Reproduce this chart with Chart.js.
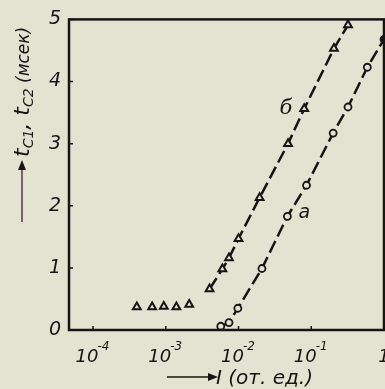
<!DOCTYPE html>
<html>
<head>
<meta charset="utf-8">
<script src="https://cdn.jsdelivr.net/npm/chart.js@4/dist/chart.umd.min.js"></script>
<style>
html,body{margin:0;padding:0;background:#e2e3d1;}
#wrap{width:385px;height:389px;}
</style>
</head>
<body>
<div id="wrap"><canvas id="c" width="385" height="389"></canvas></div>
<script>
// x ticks (log scale) and their labels: base + exponent
const xTicks = [1e-4, 1e-3, 1e-2, 1e-1, 1];
const xTickBase = ['10', '10', '10', '10', '1'];
const xTickExp = ['-4', '-3', '-2', '-1', ''];
const yTicks = [0, 1, 2, 3, 4, 5];

// curve б (triangles)
const triX = [4.0e-4, 6.5e-4, 9.4e-4, 1.4e-3, 2.1e-3, 4.0e-3, 6.0e-3, 7.4e-3, 1.0e-2, 1.95e-2, 4.8e-2, 8.0e-2, 0.205, 0.32];
const triY = [0.37, 0.37, 0.38, 0.37, 0.41, 0.66, 0.98, 1.16, 1.47, 2.13, 3.0, 3.56, 4.53, 4.91];
// curve а (circles)
const circX = [5.7e-3, 7.4e-3, 9.8e-3, 2.1e-2, 4.7e-2, 8.6e-2, 0.2, 0.32, 0.59, 1.0];
const circY = [0.06, 0.12, 0.35, 0.99, 1.83, 2.33, 3.17, 3.59, 4.23, 4.68];

const BG = '#e2e3d1';
const INK = '#151515';

function pts(xs, ys) { return xs.map((x, i) => ({ x: x, y: ys[i] })); }

const framePlugin = {
  id: 'frame',
  beforeDraw(chart) {
    const ctx = chart.ctx;
    ctx.save();
    ctx.fillStyle = BG;
    ctx.fillRect(0, 0, chart.width, chart.height);
    ctx.restore();
  },
  afterDatasetsDraw(chart) {
    const ctx = chart.ctx, a = chart.chartArea;
    const xs = chart.scales.x, ys = chart.scales.y;
    ctx.save();
    ctx.strokeStyle = INK;
    ctx.lineWidth = 2.5;
    ctx.strokeRect(a.left, a.top, a.right - a.left, a.bottom - a.top);

    // inward ticks
    ctx.lineWidth = 1.5;
    ctx.beginPath();
    xTicks.forEach(v => {
      const px = xs.getPixelForValue(v);
      ctx.moveTo(px, a.bottom); ctx.lineTo(px, a.bottom - 4);
    });
    yTicks.forEach(v => {
      const py = ys.getPixelForValue(v);
      ctx.moveTo(a.left, py); ctx.lineTo(a.left + 4, py);
    });
    ctx.stroke();

    // x tick labels with superscripts
    ctx.fillStyle = INK;
    ctx.textBaseline = 'alphabetic';
    xTicks.forEach((v, i) => {
      const px = xs.getPixelForValue(v);
      ctx.font = 'italic 18px "DejaVu Sans"';
      const wb = ctx.measureText(xTickBase[i]).width;
      ctx.font = 'italic 12px "DejaVu Sans"';
      const we = xTickExp[i] ? ctx.measureText(xTickExp[i]).width : 0;
      const x0 = px - (wb + we) / 2;
      ctx.font = 'italic 18px "DejaVu Sans"';
      ctx.textAlign = 'left';
      ctx.fillText(xTickBase[i], x0, 362);
      if (xTickExp[i]) {
        ctx.font = 'italic 12px "DejaVu Sans"';
        ctx.fillText(xTickExp[i], x0 + wb - 1, 350);
      }
    });

    // curve labels
    ctx.font = 'italic 21px "DejaVu Serif"';
    ctx.textAlign = 'center';
    ctx.textBaseline = 'middle';
    ctx.fillText('б', xs.getPixelForValue(0.045), ys.getPixelForValue(3.57));
    ctx.font = 'italic 19px "DejaVu Sans"';
    ctx.fillText('а', xs.getPixelForValue(0.08), ys.getPixelForValue(1.89));

    // x axis title with arrow
    ctx.strokeStyle = INK;
    ctx.lineWidth = 1.5;
    ctx.beginPath(); ctx.moveTo(167, 377); ctx.lineTo(212, 377); ctx.stroke();
    ctx.beginPath(); ctx.moveTo(218, 377); ctx.lineTo(208, 373); ctx.lineTo(208, 381); ctx.closePath(); ctx.fill();
    ctx.font = 'italic 20px "DejaVu Sans"';
    ctx.textAlign = 'left';
    ctx.textBaseline = 'alphabetic';
    ctx.fillText('I (от. ед.)', 216, 384);

    // y axis title with arrow (rotated)
    ctx.save();
    ctx.strokeStyle = '#5a3050';
    ctx.lineWidth = 1.5;
    ctx.beginPath(); ctx.moveTo(22, 222); ctx.lineTo(22, 166); ctx.stroke();
    ctx.fillStyle = INK;
    ctx.beginPath(); ctx.moveTo(22, 160); ctx.lineTo(18, 170); ctx.lineTo(26, 170); ctx.closePath(); ctx.fill();
    ctx.translate(29, 157);
    ctx.rotate(-Math.PI / 2);
    const parts = [
      ['t', 'italic 22px "DejaVu Sans"', 0],
      ['C1', 'italic 14px "DejaVu Sans"', 4],
      [', ', 'italic 22px "DejaVu Sans"', 0],
      ['t', 'italic 22px "DejaVu Sans"', 0],
      ['C2', 'italic 14px "DejaVu Sans"', 4],
      [' (мсек)', 'italic 17px "DejaVu Sans"', 0]
    ];
    let cx = 0;
    ctx.textAlign = 'left';
    ctx.textBaseline = 'alphabetic';
    parts.forEach(p => {
      ctx.font = p[1];
      ctx.fillText(p[0], cx, p[2]);
      cx += ctx.measureText(p[0]).width;
    });
    ctx.restore();
    ctx.restore();
  }
};

new Chart(document.getElementById('c'), {
  type: 'scatter',
  data: {
    datasets: [
      {
        label: 'б',
        data: pts(triX, triY),
        showLine: true,
        borderColor: INK,
        borderWidth: 2.5,
        borderDash: [13, 5],
        segment: {
          borderColor: c => c.p0DataIndex < 5 ? 'rgba(0,0,0,0)' : INK
        },
        pointStyle: 'triangle',
        pointRadius: 4.5,
        pointBorderWidth: 2,
        pointBorderColor: INK,
        pointBackgroundColor: BG,
        clip: false
      },
      {
        label: 'а',
        data: pts(circX, circY),
        showLine: true,
        borderColor: INK,
        borderWidth: 2.5,
        borderDash: [13, 5],
        pointStyle: 'circle',
        pointRadius: 3.5,
        pointBorderWidth: 1.8,
        pointBorderColor: INK,
        pointBackgroundColor: circX.map((_, i) => i === circX.length - 1 ? INK : BG),
        clip: false
      }
    ]
  },
  plugins: [framePlugin],
  options: {
    responsive: false,
    animation: false,
    devicePixelRatio: 1,
    layout: { autoPadding: false, padding: { left: 0, right: 1, top: 14, bottom: 0 } },
    plugins: { legend: { display: false }, tooltip: { enabled: false } },
    scales: {
      x: {
        type: 'logarithmic',
        min: Math.pow(10, -4.33),
        max: 1,
        afterBuildTicks: s => { s.ticks = xTicks.map(v => ({ value: v })); },
        afterFit: s => { s.height = 59; },
        grid: { display: false, drawTicks: false },
        border: { display: false },
        ticks: { display: false }
      },
      y: {
        type: 'linear',
        min: 0,
        max: 5,
        afterBuildTicks: s => { s.ticks = yTicks.map(v => ({ value: v })); },
        afterFit: s => { s.width = 69; },
        grid: { display: false, drawTicks: false },
        border: { display: false },
        ticks: {
          padding: 8,
          color: INK,
          font: { family: 'DejaVu Sans', size: 19, style: 'italic' }
        }
      }
    }
  }
});
</script>
</body>
</html>
